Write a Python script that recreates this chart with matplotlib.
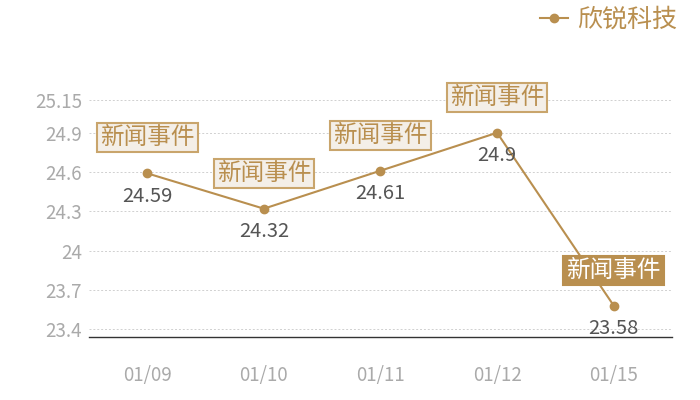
import matplotlib
matplotlib.use('Agg')
from matplotlib import pyplot as plt

plt.rcParams['font.family'] = ['Noto Sans CJK SC', 'DejaVu Sans']

# 数据
dates = ['01/09', '01/10', '01/11', '01/12', '01/15']
values = [24.59, 24.32, 24.61, 24.9, 23.58]
events = ['新闻事件', '新闻事件', '新闻事件', '新闻事件', '新闻事件']
yticks = [23.4, 23.7, 24, 24.3, 24.6, 24.9, 25.15]
ytick_labels = ['23.4', '23.7', '24', '24.3', '24.6', '24.9', '25.15']
series_name = '欣锐科技'

gold = '#b98f4f'

fig = plt.figure(figsize=(7, 4), dpi=100)
ax = fig.add_axes([0.127, 0.1575, 0.833, 0.5925])

x = list(range(len(dates)))
ax.plot(x, values, color=gold, linewidth=1.5, marker='o', markersize=6,
        label=series_name, zorder=3)

# 数值标签 + 事件标注
for i, (v, ev) in enumerate(zip(values, events)):
    ax.annotate(f'{v:g}', (i, v), xytext=(0, -16.5), textcoords='offset points',
                ha='center', va='center', fontsize=14.5, color='#555555',
                fontweight='light')
    last = i == len(values) - 1
    ax.annotate(ev, (i, v), xytext=(0, 25.5), textcoords='offset points',
                ha='center', va='center', fontsize=17,
                color='white' if last else gold, fontweight='light',
                bbox=dict(boxstyle='square,pad=0.13',
                          facecolor=gold if last else '#f4efe8',
                          edgecolor='#c9a56c' if not last else gold,
                          linewidth=1.5),
                zorder=4, annotation_clip=False)

ax.set_xlim(-0.5, len(dates) - 0.5)
ax.set_ylim(23.34, 25.15)
ax.set_xticks(x)
ax.set_xticklabels(dates)
ax.set_yticks(yticks)
ax.set_yticklabels(ytick_labels)
ax.tick_params(axis='both', length=0, colors='#aaaaaa', labelsize=13.5)
ax.tick_params(axis='x', pad=20)
ax.tick_params(axis='y', pad=5)

ax.grid(axis='y', linestyle=(0, (2, 2)), color='#d0d0d0', linewidth=0.7)
ax.set_axisbelow(True)
for s in ['top', 'right', 'left']:
    ax.spines[s].set_visible(False)
ax.spines['bottom'].set_color('#333333')
ax.spines['bottom'].set_linewidth(1)

leg = fig.legend(loc='upper right', bbox_to_anchor=(1.0, 1.04), frameon=False,
                 fontsize=18, handlelength=1.1, handletextpad=0.4)
for t in leg.get_texts():
    t.set_color(gold)

fig.savefig('out.png', dpi=100)
